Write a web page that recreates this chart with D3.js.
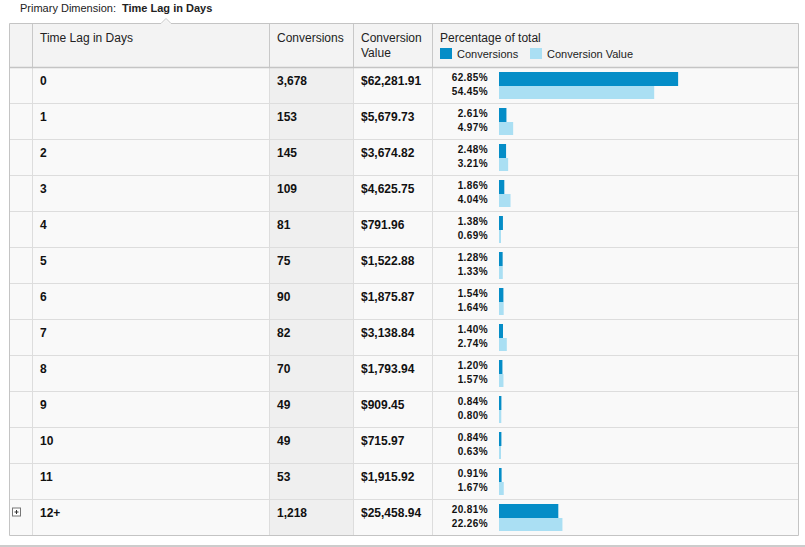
<!DOCTYPE html>
<html><head><meta charset="utf-8">
<script src="https://cdn.jsdelivr.net/npm/d3@7"></script>
<style>
html,body{margin:0;padding:0;background:#fff;}
svg{display:block;font-family:"Liberation Sans",Arial,Helvetica,sans-serif;}
</style></head><body>
<svg id="c" width="805" height="547"></svg>
<script>
const lags = ["0","1","2","3","4","5","6","7","8","9","10","11","12+"];
const conversions = [3678,153,145,109,81,75,90,82,70,49,49,53,1218];
const convValues = [62281.91,5679.73,3674.82,4625.75,791.96,1522.88,1875.87,3138.84,1793.94,909.45,715.97,1915.92,25458.94];
const convPct = [62.85,2.61,2.48,1.86,1.38,1.28,1.54,1.40,1.20,0.84,0.84,0.91,20.81];
const valuePct = [54.45,4.97,3.21,4.04,0.69,1.33,1.64,2.74,1.57,0.80,0.63,1.67,22.26];
const headers = ["Time Lag in Days","Conversions",["Conversion","Value"],"Percentage of total"];
const legendLabels = ["Conversions","Conversion Value"];

const svg = d3.select("#c");
const C_DARK = "#058dc7", C_LIGHT = "#aadff3";
const L = 9.5, R = 798.5, T = 23.5, HB = 67.5, B = 535.5;
const colX = [L, 32.5, 269.5, 353.5, 432.5, R];

const y = d3.scaleBand().domain(lags).range([HB, B]);
const x = d3.scaleLinear().domain([0, 100]).range([0, 285]);
const fmtInt = d3.format(",");
const fmtMoney = v => "$" + d3.format(",.2f")(v);

// title
const title = svg.append("text").attr("x", 20).attr("y", 12).attr("font-size", 11).attr("fill", "#222");
title.append("tspan").text("Primary Dimension:");
title.append("tspan").attr("x", 122).attr("font-weight", "bold").text("Time Lag in Days");

// header bg
svg.append("rect").attr("x", L).attr("y", T).attr("width", R - L).attr("height", HB - T).attr("fill", "#f3f3f3");
// rows bg
svg.append("rect").attr("x", L).attr("y", HB).attr("width", R - L).attr("height", B - HB).attr("fill", "#f9f9f9");
// conversions column shade
svg.append("rect").attr("x", colX[2]).attr("y", HB).attr("width", colX[3] - colX[2]).attr("height", B - HB).attr("fill", "#efefef");

// row lines
svg.selectAll("line.row").data(lags.slice(1)).join("line")
  .attr("x1", L).attr("x2", R).attr("y1", d => y(d)).attr("y2", d => y(d))
  .attr("stroke", "#dddddd");
// column lines
svg.selectAll("line.col").data(colX.slice(1, 5)).join("line")
  .attr("x1", d => d).attr("x2", d => d).attr("y1", T).attr("y2", B)
  .attr("stroke", "#dddddd");
// header column lines (darker)
svg.selectAll("line.hcol").data(colX.slice(1, 5)).join("line")
  .attr("x1", d => d).attr("x2", d => d).attr("y1", T).attr("y2", HB)
  .attr("stroke", "#c8c8c8");
// header bottom
svg.append("line").attr("x1", L).attr("x2", R).attr("y1", HB).attr("y2", HB).attr("stroke", "#c4c4c4").attr("stroke-width", 1.5);
// outer border with notch
svg.append("path")
  .attr("d", `M${L},${B} L${L},${T} L161,${T} L166,${T - 5} L171,${T} L${R},${T} L${R},${B} Z`)
  .attr("fill", "none").attr("stroke", "#c4c4c4");
svg.append("path").attr("d", `M162,${T + 0.5} L166,${T - 4} L170,${T + 0.5} Z`).attr("fill", "#f3f3f3");
// bottom rule
svg.append("line").attr("x1", 0).attr("x2", 805).attr("y1", 546).attr("y2", 546).attr("stroke", "#cccccc").attr("stroke-width", 2);

// headers
const hx = [40, 277, 361, 440];
headers.forEach((h, i) => {
  const t = svg.append("text").attr("x", hx[i]).attr("y", 42).attr("font-size", 12).attr("fill", "#222");
  if (Array.isArray(h)) {
    h.forEach((s, k) => t.append("tspan").attr("x", hx[i]).attr("dy", k === 0 ? 0 : 15).text(s));
  } else t.text(h);
});
// legend
const legX = [440, 530];
legendLabels.forEach((s, i) => {
  svg.append("rect").attr("x", legX[i]).attr("y", 48).attr("width", 12).attr("height", 11).attr("fill", i === 0 ? C_DARK : C_LIGHT);
  svg.append("text").attr("x", legX[i] + 17).attr("y", 58).attr("font-size", 11).attr("fill", "#222").text(s);
});

// rows
const rows = svg.selectAll("g.r").data(lags).join("g").attr("transform", d => `translate(0,${y(d)})`);
rows.append("text").attr("x", 40).attr("y", 17).attr("font-size", 12).attr("font-weight", "bold").attr("fill", "#111").text(d => d);
rows.append("text").attr("x", 277).attr("y", 17).attr("font-size", 12).attr("font-weight", "bold").attr("fill", "#111").text((d, i) => fmtInt(conversions[i]));
rows.append("text").attr("x", 361).attr("y", 17).attr("font-size", 12).attr("font-weight", "bold").attr("fill", "#111").text((d, i) => fmtMoney(convValues[i]));
rows.append("text").attr("x", 488).attr("y", 13.5).attr("text-anchor", "end").attr("font-size", 10).attr("letter-spacing", 0.4).attr("font-weight", "bold").attr("fill", "#111").text((d, i) => convPct[i].toFixed(2) + "%");
rows.append("text").attr("x", 488).attr("y", 27).attr("text-anchor", "end").attr("font-size", 10).attr("letter-spacing", 0.4).attr("font-weight", "bold").attr("fill", "#111").text((d, i) => valuePct[i].toFixed(2) + "%");
rows.append("rect").attr("x", 499).attr("y", 4.5).attr("height", 14).attr("width", (d, i) => Math.max(2, x(convPct[i]))).attr("fill", C_DARK);
rows.append("rect").attr("x", 499).attr("y", 18.5).attr("height", 13).attr("width", (d, i) => Math.max(2, x(valuePct[i]))).attr("fill", C_LIGHT);

// expand icon on last row
const last = svg.append("g").attr("transform", `translate(0,${y(lags[lags.length - 1])})`);
last.append("rect").attr("x", 12.5).attr("y", 8.5).attr("width", 8).attr("height", 8).attr("fill", "#fff").attr("stroke", "#777");
last.append("line").attr("x1", 14.5).attr("x2", 18.5).attr("y1", 12.5).attr("y2", 12.5).attr("stroke", "#333");
last.append("line").attr("x1", 16.5).attr("x2", 16.5).attr("y1", 10.5).attr("y2", 14.5).attr("stroke", "#333");
</script></body></html>
